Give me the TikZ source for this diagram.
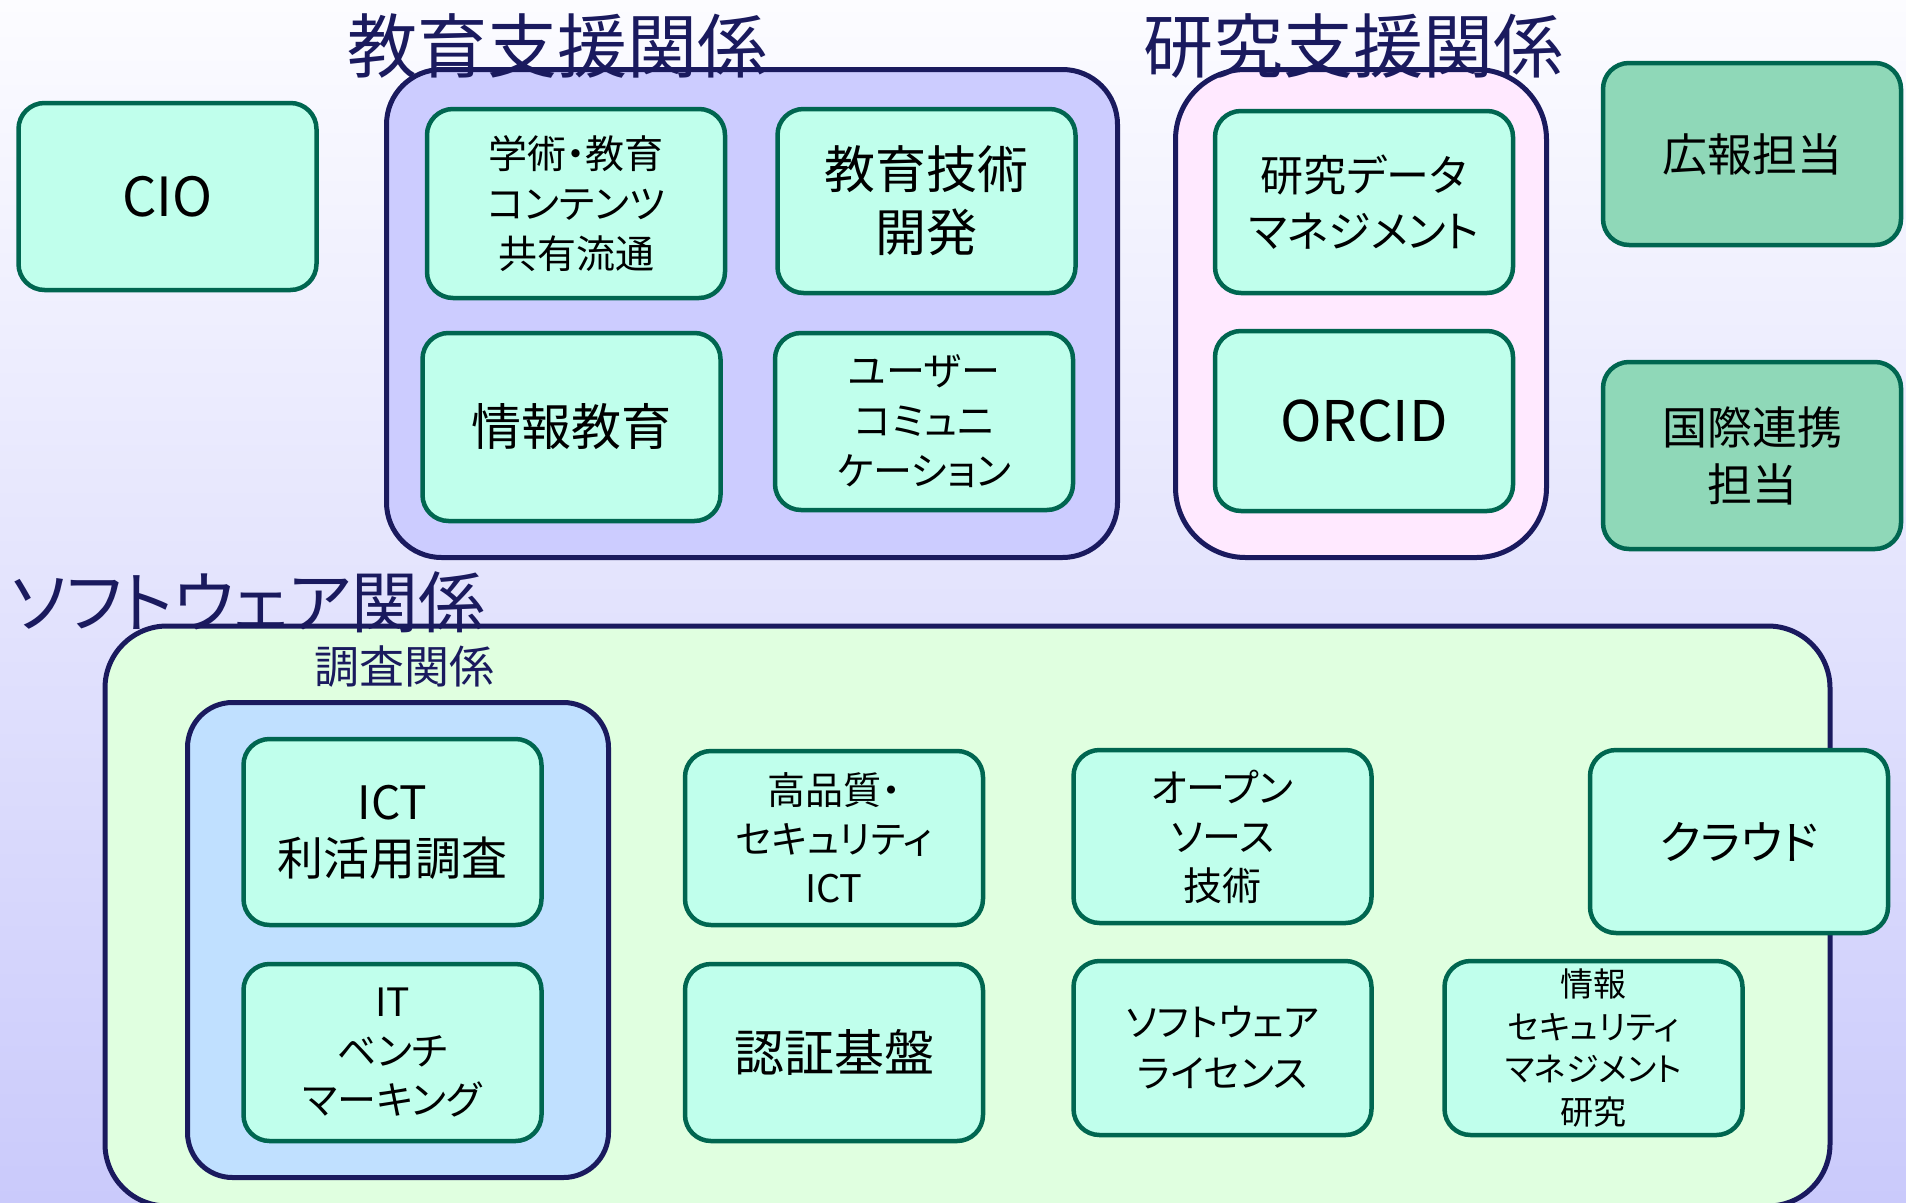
\documentclass[tikz,border=0pt]{standalone}
\usepackage{fontspec}
\newfontfamily\jp[RawFeature=+palt]{Noto Sans CJK JP}
\definecolor{bgtop}{HTML}{FCFCFF}
\definecolor{bgbot}{HTML}{CACAFB}
\definecolor{navy}{HTML}{1A1A5E}
\definecolor{edufill}{HTML}{CCCCFF}
\definecolor{resfill}{HTML}{FFE9FF}
\definecolor{softfill}{HTML}{E0FFE0}
\definecolor{survfill}{HTML}{C0E0FF}
\definecolor{mint}{HTML}{C0FFEC}
\definecolor{mintdark}{HTML}{8FD8B8}
\definecolor{boxline}{HTML}{006650}
\newcommand{\fs}[2]{\fontsize{#1}{#2}\selectfont}
\begin{document}
\begin{tikzpicture}[x=1pt,y=-1pt,font=\jp,
  grp/.style={draw=navy,line width=5pt,inner sep=0pt},
  mbox/.style={draw=boxline,line width=4.5pt,fill=mint,rounded corners=26pt,
    align=center,inner sep=0pt,minimum width=298pt,text=black},
  ttl/.style={text=navy,inner sep=0pt}]
\useasboundingbox (0,0) rectangle (1906,1202);
\clip (0,0) rectangle (1906,1202);
\shade[top color=bgtop,bottom color=bgbot] (0,0) rectangle (1906,1202);
% groups
\node[grp,fill=edufill,rounded corners=55pt,minimum width=731pt,minimum height=488pt] (edu) at (752,313.5) {};
\node[grp,fill=resfill,rounded corners=70pt,minimum width=371pt,minimum height=488pt] (res) at (1361,313.5) {};
\node[grp,fill=softfill,rounded corners=62pt,minimum width=1725pt,minimum height=580pt] (soft) at (967.5,916) {};
\node[grp,fill=survfill,rounded corners=45pt,minimum width=421pt,minimum height=475pt] (surv) at (398,940) {};
% titles
\node[ttl,font=\jp\fs{70}{74}] (tedu) at (557,46) {教育支援関係};
\node[ttl,font=\jp\fs{70}{74}] (tres) at (1353,46) {研究支援関係};
\node[ttl,font=\jp\fs{67}{72}] (tsoft) at (248,602) {ソフトウェア関係};
\node[ttl,font=\jp\fs{45}{50}] (tsurv) at (404,667) {調査関係};
% boxes
\node[mbox,minimum height=187pt,font=\jp\fs{54}{60}] (cio) at (167.5,196.5) {CIO};
\node[mbox,minimum height=189pt,font=\jp\fs{39}{50}] (gaku) at (576,203.5) {学術・教育\\コンテンツ\\共有流通};
\node[mbox,minimum height=184pt,font=\jp\fs{51}{63}] (gijutsu) at (926.5,201) {教育技術\\開発};
\node[mbox,minimum height=188pt,font=\jp\fs{50}{60}] (joho) at (571.5,427) {情報教育};
\node[mbox,minimum height=177pt,font=\jp\fs{39}{50}] (user) at (924,421.5) {ユーザー\\コミュニ\\ケーション};
\node[mbox,minimum height=182pt,font=\jp\fs{43}{56}] (rdm) at (1364,202) {研究データ\\マネジメント};
\node[mbox,minimum height=180pt,font=\jp\fs{56}{60}] (orcid) at (1364,421) {ORCID};
\node[mbox,fill=mintdark,minimum height=182pt,font=\jp\fs{45}{57}] (koho) at (1752,154) {広報担当};
\node[mbox,fill=mintdark,minimum height=187pt,font=\jp\fs{45}{57}] (kokusai) at (1752,455.5) {国際連携\\担当};
\node[mbox,minimum height=186pt,font=\jp\fs{46}{56}] (ict) at (392.5,832) {ICT\\利活用調査};
\node[mbox,minimum height=177pt,font=\jp\fs{39}{49}] (bench) at (392.5,1052.5) {IT\\ベンチ\\マーキング};
\node[mbox,minimum height=174pt,font=\jp\fs{38}{49}] (hq) at (834,838) {高品質・\\セキュリティ\\ICT};
\node[mbox,minimum height=173pt,font=\jp\fs{39}{49}] (oss) at (1222.5,836.5) {オープン\\ソース\\技術};
\node[mbox,minimum height=183pt,font=\jp\fs{46}{56}] (cloud) at (1739,841.5) {クラウド};
\node[mbox,minimum height=177pt,font=\jp\fs{50}{60}] (auth) at (834,1052.5) {認証基盤};
\node[mbox,minimum height=174pt,font=\jp\fs{38}{51}] (lic) at (1222.5,1048) {ソフトウェア\\ライセンス};
\node[mbox,minimum height=174pt,font=\jp\fs{33}{42.5}] (ism) at (1593.5,1048) {情報\\セキュリティ\\マネジメント\\研究};
\end{tikzpicture}
\end{document}
